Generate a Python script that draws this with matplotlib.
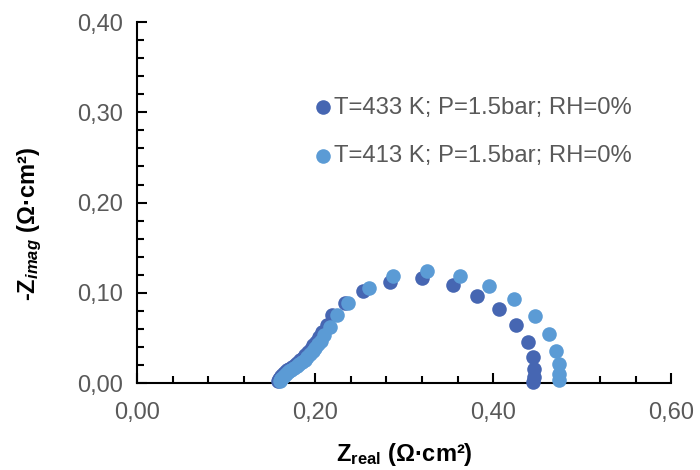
import matplotlib.pyplot as plt
from matplotlib.ticker import MultipleLocator, FuncFormatter

plt.rcParams['font.family'] = ['Liberation Sans', 'DejaVu Sans']
plt.rcParams['mathtext.fontset'] = 'custom'
plt.rcParams['mathtext.rm'] = 'Liberation Sans:bold'
plt.rcParams['mathtext.it'] = 'Liberation Sans:italic:bold'
plt.rcParams['mathtext.bf'] = 'Liberation Sans:bold'

# data (Nyquist plot)
labels = ['T=433 K; P=1.5bar; RH=0%', 'T=413 K; P=1.5bar; RH=0%']
colors = ['#4666b2', '#5b9bd5']

z_real_433 = [0.158, 0.159, 0.160, 0.162, 0.164, 0.166, 0.168, 0.171, 0.174, 0.177,
              0.180, 0.183, 0.186, 0.189, 0.192, 0.195, 0.198, 0.201, 0.204, 0.208,
              0.213, 0.219, 0.233, 0.254, 0.284, 0.320, 0.355, 0.382, 0.406, 0.426,
              0.439, 0.445, 0.446, 0.446, 0.445]
z_imag_433 = [0.002, 0.004, 0.006, 0.008, 0.010, 0.012, 0.014, 0.016, 0.018, 0.020,
              0.022, 0.025, 0.028, 0.031, 0.034, 0.038, 0.042, 0.046, 0.051, 0.057,
              0.064, 0.075, 0.089, 0.102, 0.112, 0.116, 0.109, 0.096, 0.082, 0.064,
              0.045, 0.029, 0.016, 0.007, 0.001]

z_real_413 = [0.160, 0.161, 0.162, 0.164, 0.166, 0.168, 0.170, 0.173, 0.176, 0.179,
              0.182, 0.185, 0.188, 0.191, 0.194, 0.197, 0.200, 0.203, 0.206, 0.210,
              0.217, 0.224, 0.237, 0.260, 0.287, 0.326, 0.363, 0.395, 0.423, 0.447,
              0.463, 0.471, 0.474, 0.474, 0.474]
z_imag_413 = [0.002, 0.004, 0.005, 0.007, 0.009, 0.011, 0.013, 0.015, 0.017, 0.019,
              0.021, 0.023, 0.026, 0.029, 0.032, 0.035, 0.039, 0.043, 0.047, 0.053,
              0.062, 0.075, 0.089, 0.105, 0.119, 0.124, 0.119, 0.108, 0.093, 0.074,
              0.054, 0.035, 0.021, 0.010, 0.003]

fig = plt.figure(figsize=(7, 4.7), dpi=100)
ax = fig.add_axes([0.196, 0.185, 0.763, 0.768])

ax.scatter(z_real_433, z_imag_433, s=110, color=colors[0], label=labels[0],
           linewidths=0, zorder=3, clip_on=False)
ax.scatter(z_real_413, z_imag_413, s=110, color=colors[1], label=labels[1],
           linewidths=0, zorder=4, clip_on=False)

ax.set_xlim(0, 0.6)
ax.set_ylim(0, 0.4)
ax.xaxis.set_major_locator(MultipleLocator(0.2))
ax.xaxis.set_minor_locator(MultipleLocator(0.04))
ax.yaxis.set_major_locator(MultipleLocator(0.1))
ax.yaxis.set_minor_locator(MultipleLocator(0.02))
fmt = FuncFormatter(lambda v, p: ('%.2f' % v).replace('.', ','))
ax.xaxis.set_major_formatter(fmt)
ax.yaxis.set_major_formatter(fmt)

for s in ['top', 'right']:
    ax.spines[s].set_visible(False)
for s in ['left', 'bottom']:
    ax.spines[s].set_linewidth(1.5)
    ax.spines[s].set_color('black')

ax.tick_params(which='both', direction='in', width=1.5, color='black',
               labelsize=17, labelcolor='#595959')
ax.tick_params(which='major', length=7)
ax.tick_params(which='minor', length=5)
ax.tick_params(axis='y', pad=10)
ax.tick_params(axis='x', pad=14)

ax.set_xlabel(r'Z$_{\mathrm{real}}$ (Ω·cm²)', fontsize=17, fontweight='bold', labelpad=12)
ax.set_ylabel(r'-Z$_{imag}$ (Ω·cm²)', fontsize=17, fontweight='bold')
ax.yaxis.set_label_coords(-0.174, 0.44)

ax.legend(loc='upper left', bbox_to_anchor=(0.43, 0.815), bbox_transform=fig.transFigure,
          frameon=False, fontsize=17.2, labelcolor='#595959', handletextpad=0.0,
          handlelength=1.0, labelspacing=1.1, borderaxespad=0)

fig.savefig('out.png', dpi=100)
